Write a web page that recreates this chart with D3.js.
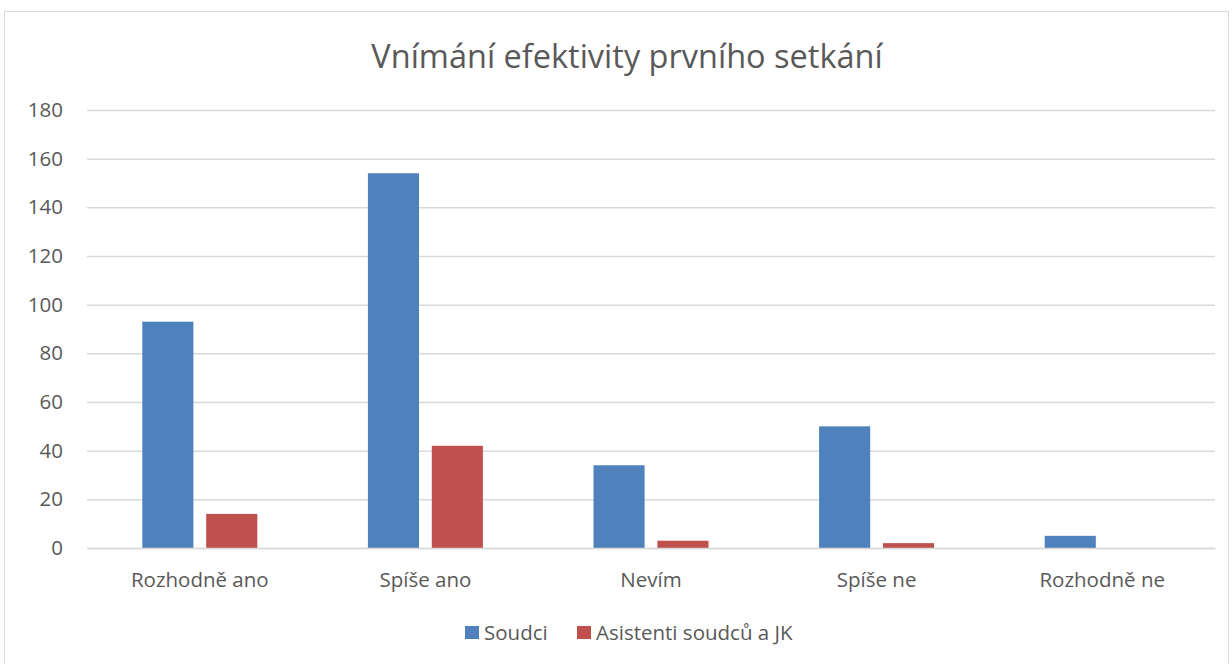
<!DOCTYPE html>
<html><head><meta charset="utf-8">
<script src="https://cdn.jsdelivr.net/npm/d3@7"></script>
<style>body{margin:0;background:#fff;} text{font-family:"Open Sans", sans-serif;}</style>
</head><body>
<svg id="c" width="1232" height="664"></svg>
<script>
const title = "Vnímání efektivity prvního setkání";
const categories = ["Rozhodně ano", "Spíše ano", "Nevím", "Spíše ne", "Rozhodně ne"];
const seriesNames = ["Soudci", "Asistenti soudců a JK"];
const soudci = [93, 154, 34, 50, 5];
const asistenti = [14, 42, 3, 2, 0];
const yTicks = [0, 20, 40, 60, 80, 100, 120, 140, 160, 180];
const colors = ["#4F81BD", "#C0504D"];

const svg = d3.select("#c");
svg.append("rect").attr("x", 4.5).attr("y", 11.5).attr("width", 1224).attr("height", 670)
  .attr("fill", "#fff").attr("stroke", "#d9d9d9");

const pL = 87, pR = 1215, pT = 110, pB = 548;
const x0 = d3.scaleBand().domain(categories).range([pL, pR]);
const x1 = d3.scaleBand().domain(seriesNames).range([0, 115]).paddingInner(0.2);
const y = d3.scaleLinear().domain([0, 180]).range([pB, pT]);

svg.append("text").attr("x", 627).attr("y", 68).attr("text-anchor", "middle")
  .attr("font-size", 32.5).attr("fill", "#595959").text(title);

const fs = 20.5;
const yAxis = d3.axisLeft(y).tickValues(yTicks).tickSize(-(pR - pL)).tickPadding(24);
const gy = svg.append("g").attr("transform", `translate(${pL},0)`).call(yAxis);
gy.select(".domain").remove();
gy.selectAll(".tick line").attr("stroke", "#d9d9d9").attr("stroke-width", 1.5);
gy.selectAll(".tick text").attr("fill", "#595959").attr("font-size", fs).attr("font-family", "'Open Sans', sans-serif");

const data = categories.map((c, i) => ({c, vals: [soudci[i], asistenti[i]]}));
const g = svg.append("g");
data.forEach(d => {
  const cx = x0(d.c) + x0.bandwidth() / 2 - 57.5;
  d.vals.forEach((v, j) => {
    if (v <= 0) return;
    g.append("rect").attr("x", cx + x1(seriesNames[j])).attr("width", x1.bandwidth())
      .attr("y", y(v)).attr("height", y(0) - y(v)).attr("fill", colors[j]);
  });
});

const xAxis = d3.axisBottom(x0).tickSize(0).tickPadding(24);
const gx = svg.append("g").attr("transform", `translate(0,${pB})`).call(xAxis);
gx.select(".domain").attr("stroke", "#d9d9d9").attr("stroke-width", 1.5);
gx.selectAll(".tick text").attr("fill", "#595959").attr("font-size", fs).attr("font-family", "'Open Sans', sans-serif");

const leg = svg.append("g");
const legX = [465, 577];
seriesNames.forEach((s, i) => {
  leg.append("rect").attr("x", legX[i]).attr("y", 626).attr("width", 14).attr("height", 13).attr("fill", colors[i]);
  leg.append("text").attr("x", legX[i] + 19).attr("y", 640).attr("font-size", fs).attr("fill", "#595959").text(s);
});
</script>
</body></html>
